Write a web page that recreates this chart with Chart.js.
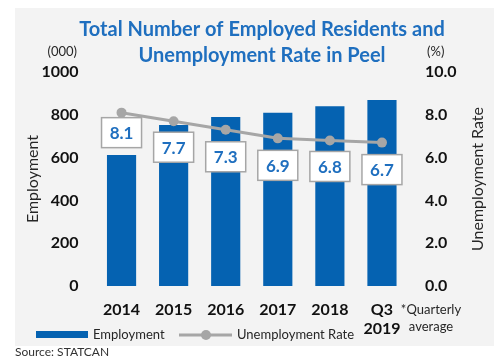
<!DOCTYPE html>
<html>
<head>
<meta charset="utf-8">
<script src="https://cdn.jsdelivr.net/npm/chart.js@4.4.1/dist/chart.umd.min.js"></script>
<style>
  html, body { margin: 0; padding: 0; background: #fff; }
  body { width: 494px; height: 358px; position: relative; overflow: hidden; font-family: Lato, sans-serif; }
  #panel { position: absolute; left: 15px; top: 8px; width: 479px; height: 338px; background: #f3f3f3; }
  #wrap { position: absolute; left: 0; top: 0; width: 494px; height: 358px; }
  #source { position: absolute; left: 15px; top: 344px; font-size: 12px; color: #333; }
</style>
</head>
<body>
<div id="panel"></div>
<div id="wrap"><canvas id="chart" width="494" height="358"></canvas></div>
<div id="source">Source: STATCAN</div>
<script>
const years = ['2014', '2015', '2016', '2017', '2018', ['Q3', '2019']];
const employment = [612, 752, 790, 810, 840, 869];
const unemploymentRate = [8.1, 7.7, 7.3, 6.9, 6.8, 6.7];
const leftTicks = [0, 200, 400, 600, 800, 1000];
const rightTicks = [0, 2, 4, 6, 8, 10];

const blue = '#0562b1';
const textBlue = '#1f6fbf';
const grey = '#a6a6a6';
const labelGap = [5, 11, 12, 12, 11, 12];

function rotatedTitle(ctx, text, x, y) {
    ctx.save();
    ctx.translate(x, y);
    ctx.rotate(-Math.PI / 2);
    ctx.fillStyle = '#262626';
    ctx.font = '16px Lato';
    ctx.textAlign = 'center';
    ctx.textBaseline = 'middle';
    ctx.fillText(text, 0, 0);
    ctx.restore();
}

const extras = {
    id: 'extras',
    afterDatasetsDraw(chart) {
        const ctx = chart.ctx;
        const meta = chart.getDatasetMeta(0);
        ctx.save();
        // value boxes under the line points
        meta.data.forEach((pt, i) => {
            const w = 40, h = 30;
            const x = pt.x - w / 2, y = pt.y + labelGap[i];
            ctx.fillStyle = '#fff';
            ctx.fillRect(x, y, w, h);
            ctx.strokeStyle = grey;
            ctx.lineWidth = 1.5;
            ctx.strokeRect(x, y, w, h);
            ctx.fillStyle = textBlue;
            ctx.font = 'bold 17px Lato';
            ctx.textAlign = 'center';
            ctx.textBaseline = 'middle';
            ctx.fillText(unemploymentRate[i].toFixed(1), pt.x, y + h / 2 + 1);
        });

        // axis titles, both reading bottom to top
        const area = chart.chartArea;
        const midY = (area.top + area.bottom) / 2;
        rotatedTitle(ctx, 'Employment', 33, midY);
        rotatedTitle(ctx, 'Unemployment Rate', 478, midY);

        // unit captions
        ctx.fillStyle = '#262626';
        ctx.font = '13px Lato';
        ctx.textBaseline = 'middle';
        ctx.textAlign = 'right';
        ctx.fillText('(000)', 77, 52);
        ctx.textAlign = 'left';
        ctx.fillText('(%)', 427, 52);

        // quarterly note
        ctx.textAlign = 'center';
        ctx.fillText('*Quarterly', 431, 310);
        ctx.fillText('average', 431, 327);

        // legend
        ctx.fillStyle = blue;
        ctx.fillRect(36, 331, 52, 7);
        ctx.strokeStyle = grey;
        ctx.lineWidth = 3;
        ctx.beginPath();
        ctx.moveTo(179, 335);
        ctx.lineTo(232, 335);
        ctx.stroke();
        ctx.fillStyle = grey;
        ctx.beginPath();
        ctx.arc(206, 335, 5, 0, Math.PI * 2);
        ctx.fill();
        ctx.fillStyle = '#262626';
        ctx.textAlign = 'left';
        ctx.fillText('Employment', 93, 335);
        ctx.fillText('Unemployment Rate', 237, 335);
        ctx.restore();
    }
};

new Chart(document.getElementById('chart'), {
    data: {
        labels: years,
        datasets: [
            {
                type: 'line',
                label: 'Unemployment Rate',
                data: unemploymentRate,
                yAxisID: 'y1',
                borderColor: grey,
                backgroundColor: grey,
                borderWidth: 3,
                pointRadius: 5,
                pointBackgroundColor: grey,
                pointBorderWidth: 0,
                order: 0
            },
            {
                type: 'bar',
                label: 'Employment',
                data: employment,
                yAxisID: 'y',
                backgroundColor: blue,
                categoryPercentage: 1,
                barPercentage: 0.56,
                order: 1
            }
        ]
    },
    options: {
        responsive: false,
        animation: false,
        layout: { padding: { left: 30, right: 0, top: 0, bottom: 0 } },
        plugins: {
            legend: { display: false },
            tooltip: { enabled: false },
            title: {
                display: true,
                text: ['Total Number of Employed Residents and', 'Unemployment Rate in Peel'],
                color: textBlue,
                font: { family: 'Lato', size: 20, weight: 'bold', lineHeight: 1.3 },
                padding: { top: 17, bottom: 3 }
            }
        },
        scales: {
            x: {
                grid: { display: false, drawTicks: false },
                border: { display: false },
                ticks: { color: '#111', font: { family: 'Lato', size: 16, weight: 'bold' }, padding: 14, maxRotation: 0 },
                afterFit: s => { s.height = 72; }
            },
            y: {
                position: 'left',
                min: 0, max: 1000,
                afterBuildTicks: s => { s.ticks = leftTicks.map(v => ({ value: v })); },
                grid: { display: false, drawTicks: false },
                border: { display: false },
                ticks: { color: '#111', font: { family: 'Lato', size: 16, weight: 'bold' }, padding: 17, callback: v => String(v) },
                afterFit: s => { s.width = 65.5; }
            },
            y1: {
                position: 'right',
                min: 0, max: 10,
                afterBuildTicks: s => { s.ticks = rightTicks.map(v => ({ value: v })); },
                grid: { display: false, drawTicks: false },
                border: { display: false },
                ticks: { color: '#111', font: { family: 'Lato', size: 16, weight: 'bold' }, padding: 17, callback: v => v.toFixed(1) },
                afterFit: s => { s.width = 86; }
            }
        }
    },
    plugins: [extras]
});
</script>
</body>
</html>
